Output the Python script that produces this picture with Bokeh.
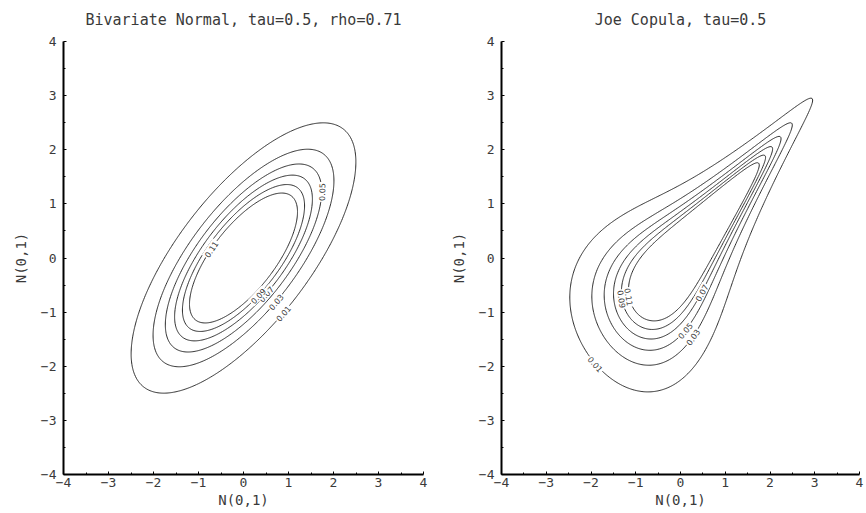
import math
import numpy as np
from bokeh.plotting import figure
from bokeh.layouts import row
from bokeh.models import FixedTicker
from bokeh.core.properties import value
from bokeh.embed import file_html
from bokeh.resources import INLINE
from contourpy import contour_generator

# ---------------- data ----------------
tau = 0.5
rho = 0.71
levels = [0.01, 0.03, 0.05, 0.07, 0.09, 0.11]
level_labels = ["0.01", "0.03", "0.05", "0.07", "0.09", "0.11"]
titles = ["Bivariate Normal, tau=0.5, rho=0.71", "Joe Copula, tau=0.5"]
axis_title = "N(0,1)"
tick_values = [-4, -3, -2, -1, 0, 1, 2, 3, 4]
tick_labels = ["\u22124", "\u22123", "\u22122", "\u22121", "0", "1", "2", "3", "4"]
minor_values = [-3.5, -2.5, -1.5, -0.5, 0.5, 1.5, 2.5, 3.5]
# approximate label anchor points (one per level)
normal_label_x = [0.89, 0.71, 1.71, 0.44, 0.29, -0.73]
normal_label_y = [-1.03, -0.80, 1.23, -0.62, -0.67, 0.18]
joe_label_x = [-1.87, 0.24, 0.09, 0.47, -1.29, -1.13]
joe_label_y = [-1.95, -1.45, -1.32, -0.64, -0.75, -0.71]

# ---------------- densities ----------------
grid = np.linspace(-4, 4, 401)
phi = np.exp(-grid ** 2 / 2) / math.sqrt(2 * math.pi)
X, Y = np.meshgrid(grid, grid)

z_normal = np.exp(-(X ** 2 - 2 * rho * X * Y + Y ** 2) / (2 * (1 - rho ** 2))) / (
    2 * math.pi * math.sqrt(1 - rho ** 2))


def joe_tau(th):
    k = np.arange(1, 200001, dtype=float)
    return 1 - 4 * np.sum(1.0 / (k * (th * k + 2) * (th * (k - 1) + 2)))


lo, hi = 1.0001, 20.0
for _ in range(80):
    mid = 0.5 * (lo + hi)
    if joe_tau(mid) < tau:
        lo = mid
    else:
        hi = mid
theta = 0.5 * (lo + hi)

ubar = np.array([0.5 * math.erfc(g / math.sqrt(2)) for g in grid])
Ub = ubar[None, :]
Vb = ubar[:, None]
Ut = Ub ** theta
Vt = Vb ** theta
A = Ut + Vt - Ut * Vt
cop = A ** (1 / theta - 2) * Ub ** (theta - 1) * Vb ** (theta - 1) * (theta - 1 + A)
z_joe = cop * phi[None, :] * phi[:, None]

SX, SY = 45.0, 54.1  # px per unit, used for label orientation


def label_positions(z, lx, ly):
    gen = contour_generator(grid, grid, z)
    xs, ys, angs = [], [], []
    for lev, tx, ty in zip(levels, lx, ly):
        best = None
        for seg in gen.lines(lev):
            d = ((seg[:, 0] - tx) * SX) ** 2 + ((seg[:, 1] - ty) * SY) ** 2
            i = int(np.argmin(d))
            if best is None or d[i] < best[0]:
                best = (d[i], seg, i)
        _, seg, i = best
        n = len(seg)
        a = seg[max(i - 3, 0)]
        b = seg[min(i + 3, n - 1)]
        ang = math.atan2((b[1] - a[1]) * SY, (b[0] - a[0]) * SX)
        if ang > math.pi / 2:
            ang -= math.pi
        if ang < -math.pi / 2:
            ang += math.pi
        xs.append(seg[i, 0])
        ys.append(seg[i, 1])
        angs.append(ang)
    return xs, ys, angs


FONT = "DejaVu Sans Mono"
TXT = "#3a3a3a"


def make_panel(z, lx, ly, title, fw, right_border):
    p = figure(frame_width=fw, frame_height=433, x_range=(-4, 4), y_range=(-4, 4),
               min_border_left=63, min_border_right=right_border, min_border_top=40,
               min_border_bottom=38, output_backend="svg", toolbar_location=None,
               title=title)
    p.title.align = "center"
    p.title.vertical_align = "top"
    p.title.text_font = FONT
    p.title.text_font_style = "normal"
    p.title.text_font_size = "15px"
    p.title.text_color = TXT
    p.title.standoff = 21
    p.grid.visible = False
    p.outline_line_color = None
    for ax in (p.xaxis[0], p.yaxis[0]):
        ax.ticker = FixedTicker(ticks=tick_values, minor_ticks=minor_values)
        ax.major_label_overrides = {v: s for v, s in zip(tick_values, tick_labels)}
        ax.axis_line_width = 2
        ax.axis_line_color = "black"
        ax.major_tick_in = 3
        ax.major_tick_out = 0
        ax.minor_tick_in = 2
        ax.minor_tick_out = 0
        ax.major_tick_line_color = "black"
        ax.minor_tick_line_color = "black"
        ax.major_label_text_font = FONT
        ax.major_label_text_font_size = "13px"
        ax.major_label_text_color = TXT
        ax.axis_label = axis_title
        ax.axis_label_text_font = FONT
        ax.axis_label_text_font_style = "normal"
        ax.axis_label_text_font_size = "14px"
        ax.axis_label_text_color = TXT
    p.xaxis.major_label_standoff = 3
    p.xaxis.axis_label_standoff = 2
    p.yaxis.major_label_standoff = 7
    p.yaxis.axis_label_standoff = 9

    p.contour(grid, grid, z, levels=levels, line_color="#2a2a2a", line_width=1)
    xs, ys, angs = label_positions(z, lx, ly)
    p.text(x=xs, y=ys, text=level_labels, angle=angs, text_align="center",
           text_baseline="middle", text_font=value("DejaVu Sans"), text_font_size="8px",
           text_color=TXT, background_fill_color="white", padding=1)
    return p


p1 = make_panel(z_normal, normal_label_x, normal_label_y, titles[0], 360, 15)
p2 = make_panel(z_joe, joe_label_x, joe_label_y, titles[1], 358, 5)
layout = row(p1, p2)

open("out.html", "w").write(file_html(layout, INLINE))
